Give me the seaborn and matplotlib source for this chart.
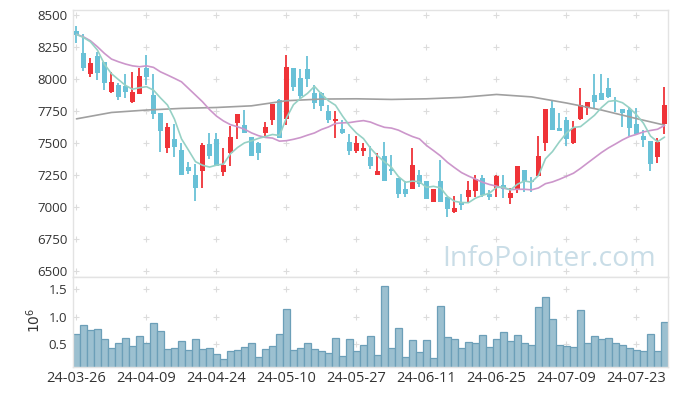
import numpy as np
import pandas as pd
import matplotlib
matplotlib.use("Agg")
import matplotlib.pyplot as plt
import seaborn as sns

# -----------------------------
# DATA
# -----------------------------
holidays = ["2024-04-10", "2024-05-01", "2024-05-06", "2024-05-15", "2024-06-06"]
dates = [d for d in pd.bdate_range("2024-03-26", "2024-07-29") if d.strftime("%Y-%m-%d") not in holidays]

opens = [8375, 8205, 8036, 8180, 8130, 7900, 7950, 7945, 7820, 7882,
         8083, 7875, 7730, 7457, 7532, 7444, 7311, 7248, 7282, 7495,
         7532, 7274, 7418, 7657, 7639, 7543, 7501, 7574, 7678, 7835,
         7689, 8085, 8007, 8077, 7892, 7892, 7751, 7673, 7608, 7506,
         7438, 7438, 7391, 7248, 7397, 7292, 7222, 7138, 7138, 7248,
         7201, 7039, 7201, 7073, 6961, 7031, 7078, 7125, 7225, 7099,
         7149, 7167, 7070, 7131, 7287, 7200, 7240, 7496, 7775, 7616,
         7678, 7496, 7686, 7770, 7874, 7887, 7926, 7838, 7762, 7757,
         7647, 7553, 7514, 7391, 7645]
closes = [8345, 8090, 8127, 8050, 7965, 7975, 7860, 7900, 7900, 8023,
          8017, 7725, 7595, 7621, 7470, 7246, 7282, 7145, 7483, 7397,
          7321, 7326, 7548, 7725, 7580, 7400, 7423, 7621, 7804, 7540,
          8091, 7940, 7866, 8000, 7814, 7790, 7678, 7690, 7580, 7438,
          7496, 7462, 7318, 7279, 7204, 7280, 7097, 7097, 7326, 7178,
          7060, 7138, 7039, 6984, 6992, 7013, 7131, 7217, 7091, 7080,
          7240, 7136, 7110, 7318, 7204, 7194, 7397, 7765, 7600, 7592,
          7532, 7616, 7796, 7819, 7817, 7835, 7856, 7832, 7731, 7613,
          7569, 7522, 7332, 7506, 7796]
highs = [8414, 8349, 8166, 8215, 8135, 8055, 7965, 8040, 8055, 8083,
         8187, 8040, 7735, 7657, 7645, 7500, 7352, 7335, 7500, 7574,
         7574, 7457, 7634, 7727, 7754, 7545, 7505, 7663, 7806, 7840,
         8187, 8088, 8075, 8180, 7952, 7900, 7796, 7751, 7678, 7566,
         7553, 7496, 7475, 7423, 7509, 7404, 7225, 7204, 7457, 7287,
         7203, 7140, 7365, 7075, 7084, 7099, 7204, 7248, 7248, 7130,
         7248, 7248, 7144, 7320, 7290, 7230, 7553, 7767, 7830, 7731,
         7704, 7673, 7926, 7821, 8036, 8036, 8005, 7862, 7764, 7783,
         7770, 7600, 7516, 7535, 7939]
lows = [8283, 8062, 8017, 7990, 7910, 7890, 7835, 7855, 7815, 7880,
        7952, 7685, 7425, 7423, 7390, 7245, 7256, 7045, 7145, 7371,
        7320, 7240, 7318, 7530, 7578, 7398, 7365, 7535, 7639, 7540,
        7639, 7908, 7840, 7934, 7762, 7751, 7652, 7535, 7566, 7402,
        7423, 7399, 7292, 7248, 7204, 7248, 7066, 7073, 7136, 7152,
        7058, 7037, 7037, 6922, 6948, 6974, 7039, 7078, 7078, 7052,
        7078, 7070, 7021, 7105, 7118, 7118, 7238, 7436, 7598, 7590,
        7475, 7494, 7678, 7718, 7770, 7833, 7854, 7745, 7626, 7553,
        7567, 7465, 7279, 7344, 7569]
volume = [0.68, 0.84, 0.75, 0.77, 0.59, 0.43, 0.51, 0.60, 0.46, 0.64,
          0.51, 0.88, 0.73, 0.40, 0.42, 0.55, 0.385, 0.585, 0.40, 0.42,
          0.31, 0.22, 0.37, 0.385, 0.44, 0.51, 0.26, 0.40, 0.46, 0.69,
          1.13, 0.385, 0.42, 0.51, 0.40, 0.37, 0.33, 0.60, 0.28, 0.585,
          0.37, 0.475, 0.64, 0.29, 1.555, 0.42, 0.785, 0.26, 0.567, 0.35,
          0.567, 0.24, 1.19, 0.62, 0.585, 0.42, 0.535, 0.51, 0.66, 0.44,
          0.585, 0.71, 0.55, 0.66, 0.51, 0.475, 1.17, 1.35, 0.95, 0.475,
          0.46, 0.44, 1.11, 0.51, 0.64, 0.585, 0.60, 0.51, 0.49, 0.42,
          0.385, 0.37, 0.69, 0.37, 0.895]

# moving-average values before enough history is in the window
ma5_head = [8349, 8325, 8291, 8226]
ma20_head = [8349, 8330, 8299, 8252, 8200, 8156, 8135, 8117, 8103, 8096,
             8103, 8091, 8056, 8031, 8005, 7978, 7926, 7874, 7822]
# long moving average, read every 5 days
ma_long_idx = [0, 5, 10, 15, 20, 25, 30, 35, 40, 45, 50, 55, 60, 65, 70, 75, 80, 84]
ma_long = [7688, 7738, 7757, 7770, 7777, 7790, 7830, 7843, 7845, 7840,
           7845, 7856, 7879, 7860, 7812, 7757, 7690, 7639]

price_ticks = [6500, 6750, 7000, 7250, 7500, 7750, 8000, 8250, 8500]
vol_ticks = [0.5, 1.0, 1.5]

# -----------------------------
# DERIVED
# -----------------------------
n = len(closes)
idx = np.arange(n)
close_s = pd.Series(closes)
ma5 = np.concatenate([ma5_head, close_s.rolling(5).mean().to_numpy()[len(ma5_head):]])
ma20 = np.concatenate([ma20_head, close_s.rolling(20).mean().to_numpy()[len(ma20_head):]])

o = np.array(opens)
c = np.array(closes)
up = c >= o
UP_COLOR = "#ef3338"
DOWN_COLOR = "#69c1d7"
colors = np.where(up, UP_COLOR, DOWN_COLOR)
body_low = np.minimum(o, c)
body_h = np.maximum(np.abs(c - o), 7)

xtick_pos = list(range(0, n, 10))
xtick_labels = [dates[i].strftime("%y-%m-%d") for i in xtick_pos]

# -----------------------------
# PLOT
# -----------------------------
sns.set_theme(style="white")
plt.rcParams["font.family"] = ["Open Sans", "DejaVu Sans"]

fig = plt.figure(figsize=(6.77, 3.96), dpi=100)
ax1 = fig.add_axes([0.1078, 0.3005, 0.8789, 0.6742])
ax2 = fig.add_axes([0.1078, 0.0732, 0.8789, 0.2273])

GRID = "#dcdcdc"
for ax in (ax1, ax2):
    for s in ax.spines.values():
        s.set_color("#e3e3e3")
        s.set_linewidth(1)

# grid crosses
gx, gy = np.meshgrid(xtick_pos, price_ticks)
ax1.scatter(gx.ravel(), gy.ravel(), marker="+", s=22, color=GRID, linewidths=0.8, zorder=0)
gx2, gy2 = np.meshgrid(xtick_pos, vol_ticks)
ax2.scatter(gx2.ravel(), gy2.ravel(), marker="+", s=22, color=GRID, linewidths=0.8, zorder=0)

# watermark
ax1.text(0.621, 0.043, "InfoPointer.com", transform=ax1.transAxes, fontsize=20.5,
         color="#c9dde7", ha="left", va="baseline", zorder=0.5)

# candles
ax1.vlines(idx, lows, highs, colors=colors, linewidth=1.3, zorder=2)
ax1.bar(idx, body_h, bottom=body_low, width=0.72, color=colors, linewidth=0, zorder=3)

# moving averages
sns.lineplot(x=ma_long_idx, y=ma_long, ax=ax1, color="#a0a0a0", linewidth=1.2, zorder=4)
sns.lineplot(x=idx, y=ma20, ax=ax1, color="#cc96cb", linewidth=1.2, zorder=4)
sns.lineplot(x=idx, y=ma5, ax=ax1, color="#96d1c5", linewidth=1.2, zorder=5)

ax1.set_xlim(-0.5, n - 0.5)
ax1.set_ylim(6450, 8540)
ax1.set_yticks(price_ticks)
ax1.set_yticklabels([str(t) for t in price_ticks])
ax1.set_xticks([])
ax1.set_xlabel("")
ax1.set_ylabel("")

# volume
vol_df = pd.DataFrame({"i": idx, "v": volume})
sns.barplot(data=vol_df, x="i", y="v", native_scale=True, width=1, ax=ax2,
            color="#9cc0d0", edgecolor="#6c9fb8", linewidth=0.9, saturation=1, zorder=2)
ax2.set_xlim(-0.5, n - 0.5)
ax2.set_ylim(0.08, 1.72)
ax2.set_yticks(vol_ticks)
ax2.set_yticklabels(["0.5", "1.0", "1.5"])
ax2.set_xticks(xtick_pos)
ax2.set_xticklabels(xtick_labels)
ax2.set_xlabel("")
ax2.set_ylabel("")
ax2.text(-0.064, 0.52, r"$10^6$", transform=ax2.transAxes, rotation=90,
         fontsize=10, color="#333333", ha="center", va="center")

for ax in (ax1, ax2):
    ax.tick_params(axis="both", length=0, labelsize=9.5, labelcolor="#333333", pad=4)
ax2.tick_params(axis="x", labelsize=10.5, pad=3)

fig.savefig("out.png", dpi=100)
